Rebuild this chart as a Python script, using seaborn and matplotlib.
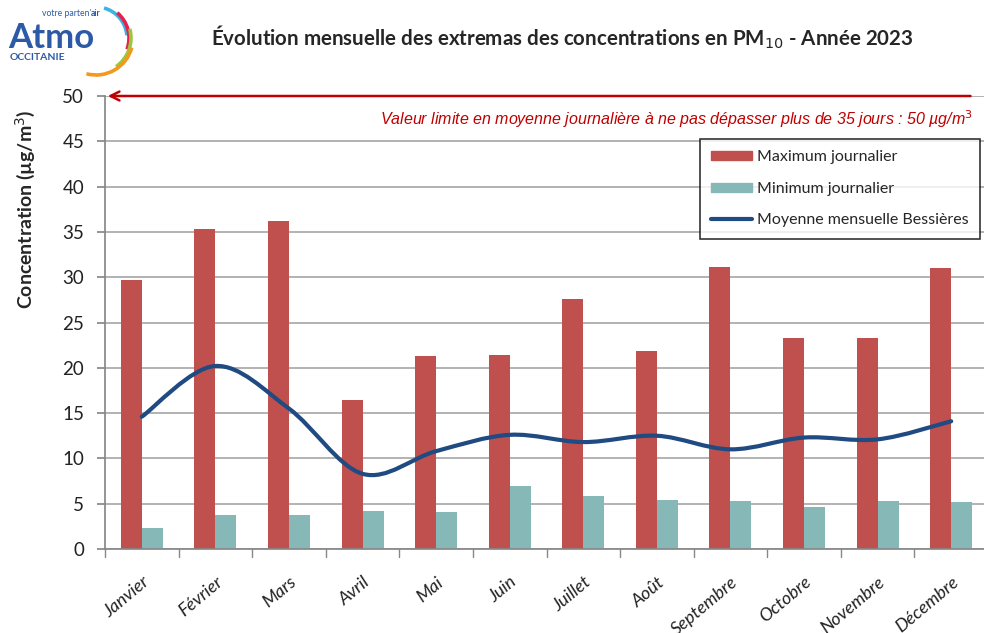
import numpy as np
import pandas as pd
import matplotlib
matplotlib.use("Agg")
import matplotlib.pyplot as plt
import seaborn as sns
from matplotlib.path import Path
from matplotlib.patches import PathPatch, Patch, Arc
from matplotlib.lines import Line2D

# data
mois = ["Janvier", "Février", "Mars", "Avril", "Mai", "Juin", "Juillet",
        "Août", "Septembre", "Octobre", "Novembre", "Décembre"]
maxi = [29.7, 35.3, 36.2, 16.4, 21.3, 21.4, 27.6, 21.9, 31.1, 23.3, 23.3, 31.0]
mini = [2.35, 3.75, 3.8, 4.2, 4.1, 7.0, 5.9, 5.4, 5.3, 4.6, 5.3, 5.2]
moyenne = [14.6, 20.2, 15.5, 8.3, 10.8, 12.6, 11.8, 12.5, 11.0, 12.3, 12.1, 14.1]
valeur_limite = 50

c_max = "#C0504D"
c_min = "#86B8B7"
c_moy = "#1F4A82"
c_lim = "#C00000"

sns.set_theme(style="white")
plt.rcParams["font.family"] = ["Lato", "DejaVu Sans"]

df = pd.DataFrame({
    "mois": mois * 2,
    "valeur": maxi + mini,
    "serie": ["Maximum journalier"] * 12 + ["Minimum journalier"] * 12,
})

fig = plt.figure(figsize=(9.84, 6.33), dpi=100)
ax = fig.add_axes([105 / 984, 1 - 549 / 633, 883 / 984, 453 / 633])

sns.barplot(data=df, x="mois", y="valeur", hue="serie", order=mois,
            palette=[c_max, c_min], width=0.57, gap=0, saturation=1,
            edgecolor="none", ax=ax, legend=False)

# smoothed monthly mean line (Excel-like smoothing, Bezier through the points)
xs = np.arange(len(moyenne), dtype=float)
ys = np.array(moyenne)
verts = [(xs[0], ys[0])]
codes = [Path.MOVETO]
for i in range(len(xs) - 1):
    p0 = max(i - 1, 0)
    p3 = min(i + 2, len(xs) - 1)
    c1 = (xs[i] + (xs[i + 1] - xs[p0]) / 6, ys[i] + (ys[i + 1] - ys[p0]) / 6)
    c2 = (xs[i + 1] - (xs[p3] - xs[i]) / 6, ys[i + 1] - (ys[p3] - ys[i]) / 6)
    verts += [c1, c2, (xs[i + 1], ys[i + 1])]
    codes += [Path.CURVE4] * 3
ax.add_patch(PathPatch(Path(verts, codes), facecolor="none", edgecolor=c_moy,
                       lw=3, capstyle="round", zorder=5))

ax.set_xlim(-0.5, 11.5)
ax.set_ylim(0, 50)
ax.set_yticks(range(0, 51, 5))
ax.yaxis.grid(True, color="#A6A6A6", lw=1.2)
ax.set_axisbelow(True)
for s in ["top", "right"]:
    ax.spines[s].set_visible(False)
ax.spines["left"].set_color("#888888")
ax.spines["bottom"].set_color("#888888")
ax.tick_params(axis="y", left=True, length=6, color="#888888", labelsize=13.5,
               pad=9, labelcolor="#222222")
ax.set_xticks(np.arange(12))
ax.set_xticklabels(mois, rotation=40, ha="right", rotation_mode="anchor",
                   fontsize=13, fontstyle="italic", color="#222222")
ax.tick_params(axis="x", bottom=False, pad=12)
for b in np.arange(-0.5, 12, 1.0):
    ax.plot([b, b], [0, -0.9], color="#888888", lw=1, clip_on=False)
ax.set_xlabel("")
ax.set_ylabel("Concentration (µg/m$^3$)", fontsize=14, fontweight="bold",
              labelpad=12)
ax.yaxis.set_label_coords(-0.077, 0.75)

# valeur limite
ax.annotate("", xy=(-0.5, valeur_limite), xytext=(11.3, valeur_limite),
            arrowprops=dict(arrowstyle="->", color=c_lim, lw=1.8,
                            mutation_scale=16), annotation_clip=False, zorder=6)
ax.text(11.3, 47.5, "Valeur limite en moyenne journalière à ne pas dépasser plus de 35 jours : 50 µg/m$^3$",
        color=c_lim, fontstyle="italic", fontsize=11.5, ha="right", va="center",
        family=["Liberation Sans", "DejaVu Sans"])

handles = [Patch(color=c_max), Patch(color=c_min), Line2D([], [], color=c_moy, lw=3)]
labels = ["Maximum journalier", "Minimum journalier", "Moyenne mensuelle Bessières"]
leg = fig.legend(handles, labels, loc="upper right",
                 bbox_to_anchor=(980 / 984, 1 - 139 / 633), fontsize=11.5,
                 frameon=True, fancybox=False, edgecolor="black",
                 labelspacing=1.1, handlelength=2.6, handleheight=0.5,
                 handletextpad=0.3, borderpad=0.7, borderaxespad=0)
leg.get_frame().set_linewidth(1.2)

fig.text(562 / 984, 1 - 37 / 633,
         "Évolution mensuelle des extremas des concentrations en PM$_{10}$ - Année 2023",
         ha="center", va="center", fontsize=14.8, fontweight="bold")

# logo
lax = fig.add_axes([0, 1 - 80 / 633, 140 / 984, 80 / 633])
lax.set_xlim(0, 140)
lax.set_ylim(80, 0)
lax.axis("off")
lax.text(8, 38, "Atmo", color="#2C5AA6", fontsize=25, fontweight="bold",
         va="center", ha="left")
lax.text(91, 14, "votre parten'", color="#2C5AA6", fontsize=6.2, va="center",
         ha="right")
lax.text(91, 14, "air", color="#2C5AA6", fontsize=6.2, fontweight="bold",
         va="center", ha="left")
lax.text(10, 58, "OCCITANIE", color="#2C5AA6", fontsize=7.5, fontweight="bold",
         va="center")
# arcs (angles measured on the inverted y axis, so negative = upward)
for r, col, t1, t2 in [(31, "#3AB4E6", -75, -5), (33, "#E3234E", -50, 20),
                       (35, "#9CC63E", -15, 55), (37, "#F39A1E", 15, 105)]:
    lax.add_patch(Arc((96, 38), 2 * r, 2 * r, theta1=t1, theta2=t2,
                      color=col, lw=2.6))

fig.savefig("out.png", dpi=100)
